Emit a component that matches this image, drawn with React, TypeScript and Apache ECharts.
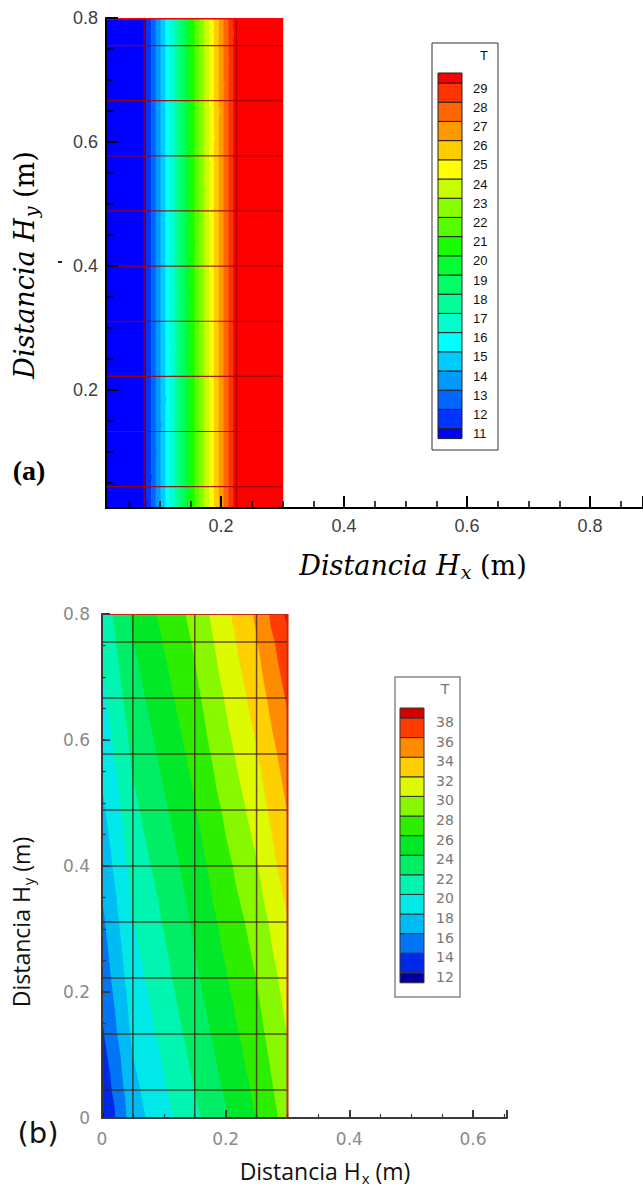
import React, { useEffect, useRef } from 'react';
import * as echarts from 'echarts';

// ---------------- DATA ----------------
// (a) contour levels and colours (bottom band "<11" .. top band ">29")
const levelsA = [11, 12, 13, 14, 15, 16, 17, 18, 19, 20, 21, 22, 23, 24, 25, 26, 27, 28, 29];
const colorsA = ['#0000FF', '#0033FF', '#0066FF', '#0099FF', '#00CCFF', '#00FFFF', '#00FFCC', '#00FF99', '#00FF66', '#00FF33',
  '#19FF00', '#55FF00', '#88FF00', '#C8FF00', '#FFFF00', '#FFCC00', '#FF9900', '#FF6600', '#FF3300', '#FF0000'];
// (a) temperature nodes (rows: y bottom->top, cols: x left->right)
const nodeXA = [0, 0.075, 0.225, 0.3];
const nodeYA = [0, 0.8];
const tempA = [
  [10.5, 10.5, 29.5, 29.5],
  [10.5, 10.5, 29.5, 29.5],
];
const meshXA = [0.075, 0.225];
const meshY = [0.0444, 0.1333, 0.2222, 0.3111, 0.4, 0.4889, 0.5778, 0.6667, 0.7556];

// (b)
const levelsB = [12, 14, 16, 18, 20, 22, 24, 26, 28, 30, 32, 34, 36, 38];
const colorsB = ['#0000A0', '#0028E8', '#0075F5', '#00BCF5', '#00E8E8', '#00F5B0', '#00EE66', '#00E828', '#2EEE00',
  '#88F800', '#DDFA00', '#FFD000', '#FF8C00', '#FF3C00', '#D40000'];
const nodeXB = [0, 0.05, 0.15, 0.25, 0.3];
const nodeYB = [0, 0.0444, 0.1333, 0.2222, 0.3111, 0.4, 0.4889, 0.5778, 0.6667, 0.7556, 0.8];
const tempB = [
  [11.5, 17.0, 21.5, 26.0, 28.8],
  [12.3, 17.4, 22.0, 26.4, 29.2],
  [13.6, 18.3, 22.8, 27.2, 30.0],
  [14.6, 19.1, 23.6, 28.0, 30.8],
  [15.5, 19.9, 24.3, 28.8, 31.8],
  [16.5, 20.7, 25.0, 29.8, 33.0],
  [17.5, 21.5, 25.8, 30.8, 34.0],
  [18.5, 22.3, 26.6, 31.8, 35.0],
  [19.4, 23.1, 27.4, 32.8, 36.2],
  [20.3, 23.9, 28.2, 33.8, 37.4],
  [20.7, 24.3, 28.6, 34.3, 38.3],
];
const meshXB = [0.05, 0.15, 0.25];

const domainW = 0.3;
const domainH = 0.8;
const axisA = { xMin: 0.013, xMax: 0.886, yMin: 0.01, yMax: 0.8, step: 0.2 };
const axisB = { xMin: 0, xMax: 0.655, yMin: 0, yMax: 0.8, step: 0.2 };

// ---------------- HELPERS ----------------
type V = [number, number, number];

function clipPoly(poly: V[], level: number, keepAbove: boolean): V[] {
  const out: V[] = [];
  const inside = (v: V) => (keepAbove ? v[2] >= level : v[2] <= level);
  for (let i = 0; i < poly.length; i++) {
    const a = poly[i];
    const b = poly[(i + 1) % poly.length];
    const ia = inside(a);
    const ib = inside(b);
    if (ia) out.push(a);
    if (ia !== ib) {
      const t = (level - a[2]) / (b[2] - a[2]);
      out.push([a[0] + t * (b[0] - a[0]), a[1] + t * (b[1] - a[1]), level]);
    }
  }
  return out;
}

function cells(nx: number[], ny: number[]) {
  const out: number[][] = [];
  for (let j = 0; j < ny.length - 1; j++)
    for (let i = 0; i < nx.length - 1; i++)
      out.push([(nx[i] + nx[i + 1]) / 2, (ny[j] + ny[j + 1]) / 2, i, j]);
  return out;
}

function meshLines(mx: number[], my: number[], w: number, h: number) {
  const out: number[][] = [];
  my.forEach((y) => out.push([0, y, w, y]));
  mx.forEach((x) => out.push([x, 0, x, h]));
  return out;
}

function fieldRenderer(nx: number[], ny: number[], temp: number[][], levels: number[], colors: string[]) {
  return (params: any, api: any) => {
    const i = api.value(2);
    const j = api.value(3);
    const P = (c: number, r: number): V => [nx[c], ny[r], temp[r][c]];
    const a = P(i, j), b = P(i + 1, j), c = P(i + 1, j + 1), d = P(i, j + 1);
    const tris: V[][] = [[a, b, c], [a, c, d]];
    const children: any[] = [];
    for (const tri of tris) {
      for (let k = 0; k < colors.length; k++) {
        let poly: V[] = tri;
        if (k > 0) poly = clipPoly(poly, levels[k - 1], true);
        if (poly.length >= 3 && k < levels.length) poly = clipPoly(poly, levels[k], false);
        if (poly.length < 3) continue;
        children.push({
          type: 'polygon',
          shape: { points: poly.map((v) => api.coord([v[0], v[1]])) },
          style: { fill: colors[k], stroke: colors[k], lineWidth: 1.3 },
        });
      }
    }
    return { type: 'group', children };
  };
}

function lineRenderer(stroke: string, lineWidth: number) {
  return (params: any, api: any) => {
    const p0 = api.coord([api.value(0), api.value(1)]);
    const p1 = api.coord([api.value(2), api.value(3)]);
    return { type: 'line', shape: { x1: p0[0], y1: p0[1], x2: p1[0], y2: p1[1] }, style: { stroke, lineWidth } };
  };
}

function makeLegend(levels: number[], colors: string[], o: any) {
  const n = levels.length;
  const yB = (k: number) => o.topY + (n - 1 - k) * o.step;
  const els: any[] = [];
  els.push({ type: 'rect', shape: { x: o.boxX, y: o.boxY, width: o.boxW, height: o.boxH }, style: { fill: '#fff', stroke: o.frame, lineWidth: o.frameW }, z: 20 });
  els.push({ type: 'text', x: o.titleX, y: o.titleY, style: { text: 'T', fontFamily: o.font, fontSize: o.fontSize, fill: o.color, align: 'center', verticalAlign: 'middle' }, z: 21 });
  for (let k = 0; k <= n; k++) {
    const top = k === n ? yB(n - 1) - o.endH : yB(k);
    const bot = k === 0 ? yB(0) + o.endH : yB(k - 1);
    els.push({ type: 'rect', shape: { x: o.barX, y: top, width: o.barW, height: bot - top }, style: { fill: colors[k], stroke: o.boxStroke, lineWidth: 1 }, z: 21 });
  }
  levels.forEach((L, k) => {
    els.push({ type: 'text', x: o.labelX, y: yB(k) + o.labelDy, style: { text: String(L), fontFamily: o.font, fontSize: o.fontSize, fill: o.color, align: 'left', verticalAlign: 'middle' }, z: 21 });
  });
  return els;
}

function axisPair(grid: number, ax: any, st: any) {
  const common = (isX: boolean) => ({
    gridIndex: grid,
    type: 'value',
    z: 10,
    splitLine: { show: false },
    axisLine: { onZero: false, lineStyle: { color: st.line, width: st.lineW } },
    axisTick: { inside: true, length: st.tick, lineStyle: { color: st.line, width: st.tickW } },
    minorTick: { show: true, splitNumber: 4, length: st.minor, lineStyle: { color: st.line, width: st.minorW } },
    axisLabel: { color: st.label, fontSize: st.fontSize, fontFamily: st.font, margin: isX ? st.xMargin : st.yMargin, showMinLabel: st.showMin, showMaxLabel: isX ? false : true },
  });
  const x: any = { ...common(true), min: ax.xMin, max: ax.xMax };
  const y: any = { ...common(false), min: ax.yMin, max: ax.yMax };
  if (st.useInterval) {
    x.interval = ax.step; y.interval = ax.step;
  } else {
    x.minInterval = ax.step; x.maxInterval = ax.step;
    y.minInterval = ax.step; y.maxInterval = ax.step;
  }
  return { x, y };
}

export default function App() {
  const ref = useRef<HTMLDivElement>(null);
  useEffect(() => {
    if (!ref.current) return;
    const chart = echarts.init(ref.current, undefined, { renderer: 'svg' });
    const A = axisPair(0, axisA, { line: '#000', lineW: 2, tick: 12, tickW: 2, minor: 7, minorW: 1.5, label: '#404040', fontSize: 18, font: 'Liberation Sans', xMargin: 9, yMargin: 8, showMin: false, useInterval: false });
    const B = axisPair(1, axisB, { line: '#3a3a3a', lineW: 2, tick: 8, tickW: 2, minor: 4, minorW: 1.2, label: '#8a8a8a', fontSize: 17, font: 'DejaVu Sans', xMargin: 12, yMargin: 12, showMin: true, useInterval: true });

    const serifRich = (sub: string) => ({
      text: `{i|Distancia H}{s|${sub}}{n| (m)}`,
      rich: {
        i: { fontFamily: 'DejaVu Serif', fontStyle: 'italic', fontSize: 27, fill: '#000' },
        s: { fontFamily: 'DejaVu Serif', fontStyle: 'italic', fontSize: 19, fill: '#000', padding: [14, 0, 0, 1] },
        n: { fontFamily: 'DejaVu Serif', fontSize: 27, fill: '#000' },
      },
      align: 'center',
      verticalAlign: 'middle',
    });
    const sansRich = (sub: string) => ({
      text: `{i|Distancia H}{s|${sub}}{n| (m)}`,
      rich: {
        i: { fontFamily: 'Open Sans', fontSize: 23, fill: '#111' },
        s: { fontFamily: 'Open Sans', fontSize: 15, fill: '#111', padding: [13, 0, 0, 1] },
        n: { fontFamily: 'Open Sans', fontSize: 23, fill: '#111' },
      },
      align: 'center',
      verticalAlign: 'middle',
    });

    const graphic: any[] = [
      { type: 'text', x: 24, y: 265, rotation: Math.PI / 2, style: serifRich('y') },
      { type: 'text', x: 413, y: 565, style: serifRich('x') },
      { type: 'text', x: 29, y: 470, style: { text: '(a)', fontFamily: 'Liberation Serif', fontWeight: 'bold', fontSize: 28, fill: '#000', align: 'center', verticalAlign: 'middle' } },
      { type: 'rect', shape: { x: 58, y: 261, width: 4, height: 2 }, style: { fill: '#222' } },
      { type: 'text', x: 21, y: 922, rotation: Math.PI / 2, style: sansRich('y') },
      { type: 'text', x: 325, y: 1171, style: sansRich('x') },
      { type: 'text', x: 38, y: 1133, style: { text: '(b)', fontFamily: 'DejaVu Sans', fontSize: 29, fill: '#111', align: 'center', verticalAlign: 'middle' } },
      ...makeLegend(levelsA, colorsA, { boxX: 432, boxY: 43, boxW: 66, boxH: 407, frame: '#333', frameW: 1, titleX: 484, titleY: 55, barX: 438, barW: 24, topY: 83, step: 19.2, endH: 10, labelX: 473, labelDy: 5, font: 'Liberation Sans', fontSize: 13, color: '#111', boxStroke: '#222' }),
      ...makeLegend(levelsB, colorsB, { boxX: 395, boxY: 677, boxW: 65, boxH: 320, frame: '#8a8a8a', frameW: 1.5, titleX: 445, titleY: 689, barX: 400, barW: 24, topY: 718, step: 19.6, endH: 10, labelX: 436, labelDy: 4, font: 'DejaVu Sans', fontSize: 14, color: '#777', boxStroke: '#333' }),
    ];

    chart.setOption({
      animation: false,
      textStyle: { fontFamily: 'Liberation Sans' },
      grid: [
        { left: 106, top: 18, width: 537, height: 490, containLabel: false },
        { left: 102, top: 614, width: 405, height: 504, containLabel: false },
      ],
      xAxis: [A.x, B.x],
      yAxis: [A.y, B.y],
      series: [
        { type: 'custom', xAxisIndex: 0, yAxisIndex: 0, clip: true, z: 1, silent: true, data: cells(nodeXA, nodeYA), renderItem: fieldRenderer(nodeXA, nodeYA, tempA, levelsA, colorsA) },
        { type: 'custom', xAxisIndex: 0, yAxisIndex: 0, clip: true, z: 2, silent: true, data: meshLines(meshXA, meshY, domainW, domainH), renderItem: lineRenderer('rgba(165,0,0,0.9)', 1.2) },
        { type: 'custom', xAxisIndex: 0, yAxisIndex: 0, clip: true, z: 3, silent: true, data: [[0, domainH, domainW, domainH]], renderItem: lineRenderer('#FF0000', 3) },
        { type: 'custom', xAxisIndex: 1, yAxisIndex: 1, clip: true, z: 1, silent: true, data: cells(nodeXB, nodeYB), renderItem: fieldRenderer(nodeXB, nodeYB, tempB, levelsB, colorsB) },
        { type: 'custom', xAxisIndex: 1, yAxisIndex: 1, clip: true, z: 2, silent: true, data: meshLines(meshXB, meshY, domainW, domainH), renderItem: lineRenderer('rgba(70,25,10,0.75)', 1.5) },
        { type: 'custom', xAxisIndex: 1, yAxisIndex: 1, clip: true, z: 3, silent: true, data: [[0, domainH, domainW, domainH], [domainW, 0, domainW, domainH]], renderItem: lineRenderer('#C82A10', 2) },
      ],
      graphic,
    });
    return () => chart.dispose();
  }, []);
  return <div ref={ref} style={{ position: 'fixed', left: 0, top: 0, width: 643, height: 1197, background: '#fff' }} />;
}
